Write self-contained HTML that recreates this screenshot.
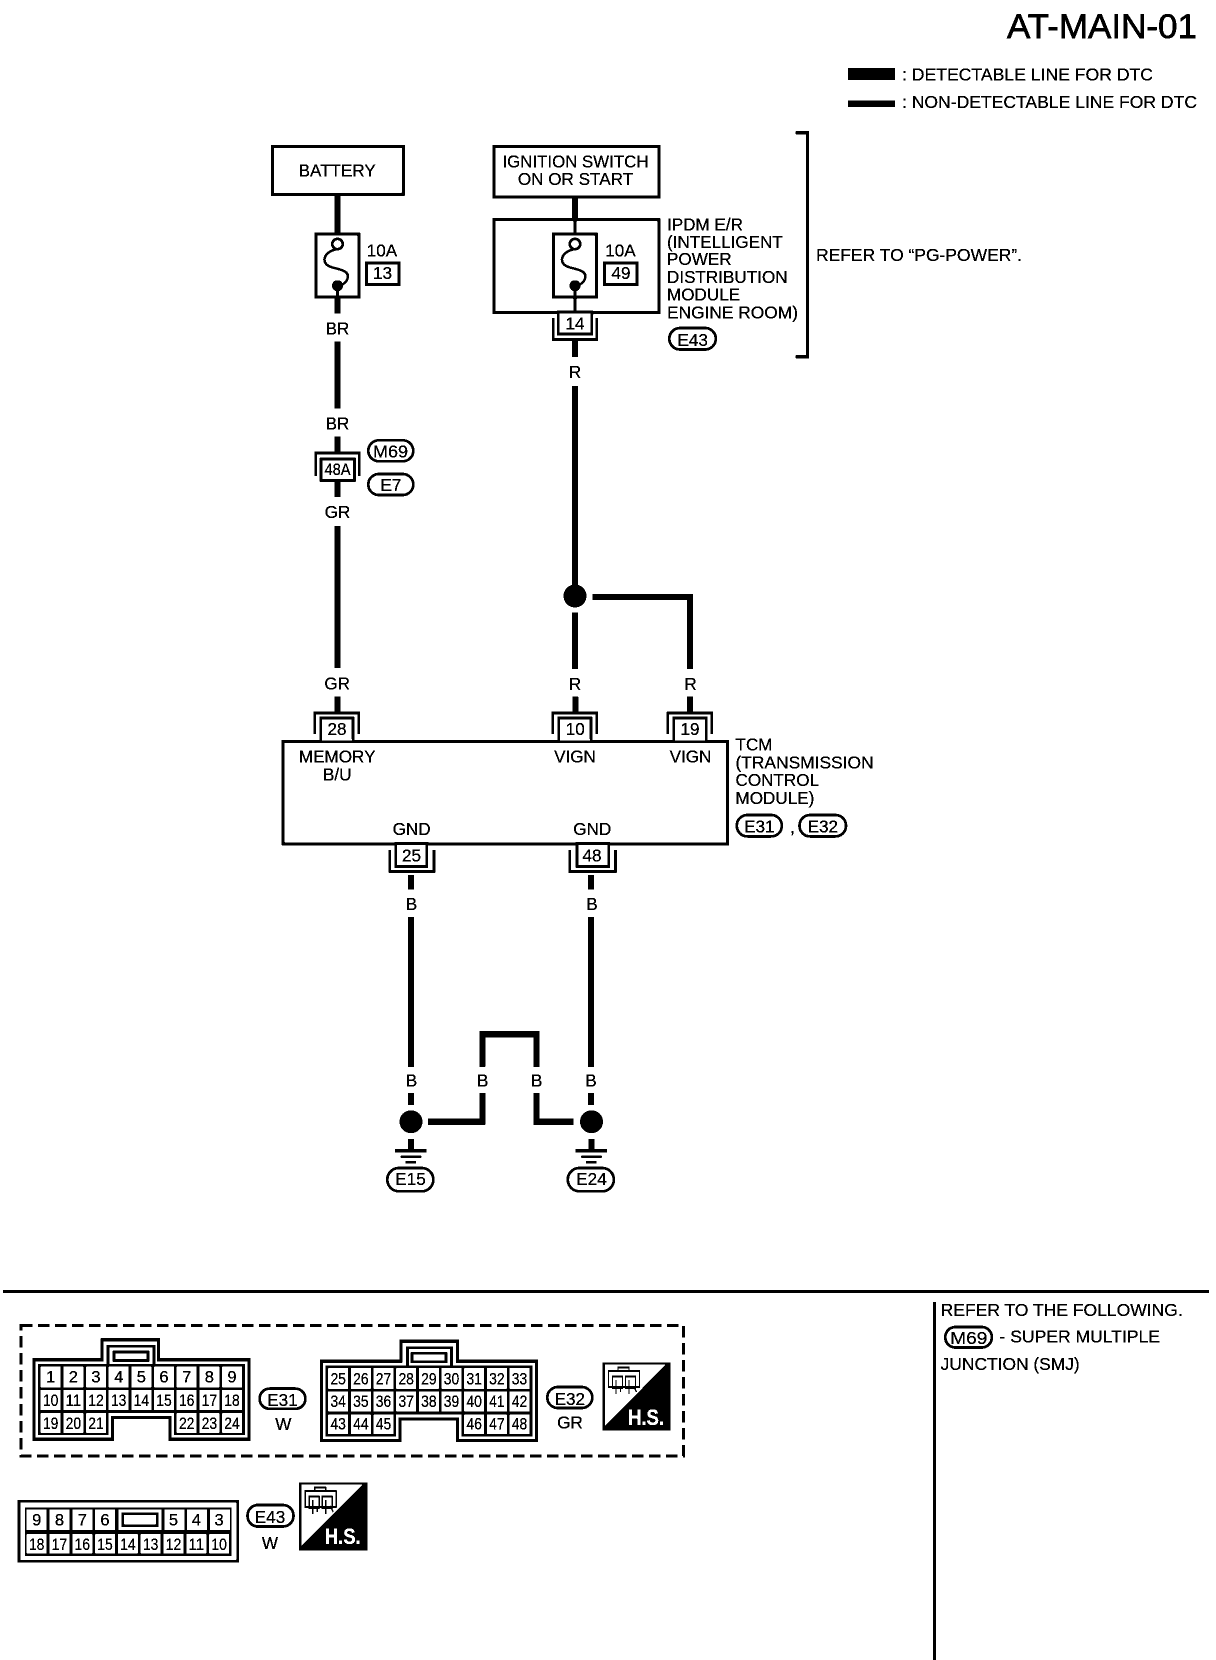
<!DOCTYPE html>
<html><head><meta charset="utf-8"><title>AT-MAIN-01</title>
<style>
html,body{margin:0;padding:0;background:#fff}
svg{display:block}
text{font-family:"Liberation Sans",Arial,sans-serif;font-size:17.1px;fill:#000;stroke:#000;stroke-width:.2px}
.m{text-anchor:middle}
.c{text-anchor:middle;font-size:16.5px}
.w{fill:none;stroke:#000;stroke-width:6}
.t{fill:none;stroke:#000;stroke-width:3.5}
.b{fill:#fff;stroke:#000;stroke-width:3}
.o{fill:#fff;stroke:#000;stroke-width:2.7}
.u{fill:none;stroke:#000;stroke-width:2.6}
.g{fill:none;stroke:#fff}
</style></head><body>
<svg xmlns="http://www.w3.org/2000/svg" width="1216" height="1660" viewBox="0 0 1216 1660">
<defs>
<filter id="bw" filterUnits="userSpaceOnUse" x="0" y="0" width="1216" height="1660" color-interpolation-filters="sRGB">
<feComponentTransfer><feFuncR type="discrete" tableValues="0 1"/><feFuncG type="discrete" tableValues="0 1"/><feFuncB type="discrete" tableValues="0 1"/></feComponentTransfer>
</filter>
<g id="hs">
<rect x="602.3" y="1362.3" width="68.4" height="68.4" fill="#000"/>
<path d="M604.8 1364.8H665.7L604.8 1425.7Z" fill="#fff"/>
<path d="M608.5 1371H639.5V1387H608.5ZM618 1371V1367.5H629V1371M612.5 1376.5H622.5V1388H612.5ZM625.5 1376.5H635.5V1388H625.5ZM616 1380V1394M620.5 1386V1392M629 1380V1394M633.5 1386L636.5 1392" fill="none" stroke="#000" stroke-width="1.4"/>
</g>
<g id="fuse">
<rect class="b" x="315.8" y="234.2" width="43" height="63"/>
<path d="M337.5 249C322 252 321 264 331 267C340 270 351 270 347 280C345 284 341 285 338 286" fill="none" stroke="#000" stroke-width="2.5"/>
<circle cx="337.5" cy="244" r="5.2" fill="#fff" stroke="#000" stroke-width="2.6"/>
<circle cx="337.5" cy="285.7" r="5.5" fill="#000"/>
</g>
<g id="gnd">
<path d="M411 1139V1150" class="w"/>
<path d="M395 1150.7H426.7" stroke="#000" stroke-width="3"/>
<path d="M400.7 1156.7H421.3" stroke="#000" stroke-width="2.2"/>
<path d="M405.7 1162.3H416" stroke="#000" stroke-width="2.6"/>
<circle cx="411" cy="1121.7" r="11.5" fill="#000"/>
<rect class="o" x="387.3" y="1168" width="46" height="23.3" rx="11.5"/>
</g>
</defs>
<g filter="url(#bw)">
<rect width="1216" height="1660" fill="#fff"/>

<!-- title and legend -->
<text x="1197" y="38" text-anchor="end" style="font-size:34px;stroke-width:.7px" textLength="190" lengthAdjust="spacingAndGlyphs">AT-MAIN-01</text>
<rect x="848" y="68" width="47" height="12" fill="#000"/>
<rect x="848" y="100.5" width="47" height="6.5" fill="#000"/>
<text x="902" y="80.5" textLength="251" lengthAdjust="spacingAndGlyphs">: DETECTABLE LINE FOR DTC</text>
<text x="902" y="108" textLength="295" lengthAdjust="spacingAndGlyphs">: NON-DETECTABLE LINE FOR DTC</text>

<!-- battery branch -->
<path class="w" d="M337.5 195V233M337.5 298V313.3M337.5 341.7V408.3M337.5 436.7V452M337.5 481.7V496.7M337.5 526V668M337.5 696.7V712"/>
<rect class="b" x="272.4" y="146.3" width="131" height="48"/>
<text class="m" x="337.2" y="176.5">BATTERY</text>
<use href="#fuse"/>
<path class="t" d="M337.5 286V298"/>
<text class="m" x="382" y="256.7">10A</text>
<rect class="b" x="366.5" y="263.2" width="32.5" height="21.5"/>
<text class="m" x="382.5" y="279">13</text>
<text class="m" x="337.5" y="334.5">BR</text>
<text class="m" x="337.5" y="429.3">BR</text>
<path class="u" d="M315.6 476V453H359.4V476"/>
<rect class="o" x="321" y="459" width="33.5" height="21.5"/>
<text class="c" x="337.5" y="475" textLength="26" lengthAdjust="spacingAndGlyphs">48A</text>
<rect class="o" x="368.3" y="440.3" width="45" height="21" rx="10.5"/>
<text class="m" x="390.5" y="457.3" textLength="35" lengthAdjust="spacingAndGlyphs">M69</text>
<rect class="o" x="368.3" y="474" width="45" height="21" rx="10.5"/>
<text class="m" x="391" y="491">E7</text>
<text class="m" x="337.5" y="518">GR</text>
<text class="m" x="337.2" y="689.3">GR</text>

<!-- ignition branch -->
<path class="w" d="M575 198V220M575 341V356.7M575 386V585M575 612.7V669M575.3 696.7V712M690 696.7V712"/>
<path class="w" d="M592.3 597H690V669"/>
<circle cx="575" cy="596" r="11.5" fill="#000"/>
<rect class="b" x="493.9" y="146.3" width="165" height="50.7"/>
<text class="m" x="575.5" y="167.3" textLength="146" lengthAdjust="spacingAndGlyphs">IGNITION SWITCH</text>
<text class="m" x="575.5" y="184.8">ON OR START</text>
<rect class="b" x="493.9" y="219.7" width="165" height="93"/>
<path class="t" d="M575 220V240"/>
<use href="#fuse" x="237.5"/>
<path class="t" d="M575 286V312"/>
<text class="m" x="620.5" y="256.7">10A</text>
<rect class="b" x="604.5" y="263.2" width="32.6" height="21.5"/>
<text class="m" x="621" y="279">49</text>
<path class="u" d="M553.3 318V339.5H596.7V318"/>
<rect class="o" x="558.3" y="312" width="33.5" height="22"/>
<text class="m" x="575" y="329.3">14</text>
<text x="667" y="230.7">IPDM E/R</text>
<text x="667" y="248">(INTELLIGENT</text>
<text x="667" y="265">POWER</text>
<text x="667" y="283">DISTRIBUTION</text>
<text x="667" y="300.7">MODULE</text>
<text x="667" y="318.5" textLength="131" lengthAdjust="spacingAndGlyphs">ENGINE ROOM)</text>
<rect class="o" x="669.3" y="328" width="46.5" height="21.5" rx="10.7"/>
<text class="m" x="692.7" y="346">E43</text>
<path d="M795.7 132.8H807.5V356.7H795.7" fill="none" stroke="#000" stroke-width="3.2"/>
<text x="816" y="261" textLength="206" lengthAdjust="spacingAndGlyphs">REFER TO “PG-POWER”.</text>
<text class="m" x="575" y="378">R</text>
<text class="m" x="575" y="690">R</text>
<text class="m" x="690.5" y="690">R</text>

<!-- TCM -->
<path class="u" d="M314.8 734V713H358.9V734M552.8 734V713H596.9V734M667.9 734V713H711.7V734"/>
<rect class="o" x="320.7" y="718" width="32.2" height="24"/>
<rect class="o" x="558.8" y="718" width="32.2" height="24"/>
<rect class="o" x="673.8" y="718" width="32.6" height="24"/>
<text class="m" x="337" y="735">28</text>
<text class="m" x="575.3" y="735">10</text>
<text class="m" x="690" y="735">19</text>
<rect class="b" x="283.2" y="741.5" width="444.3" height="102.3"/>
<rect fill="#fff" x="322" y="739" width="30" height="1.6"/>
<rect fill="#fff" x="560" y="739" width="30" height="1.6"/>
<rect fill="#fff" x="675" y="739" width="30" height="1.6"/>
<text class="m" x="337.2" y="762.7">MEMORY</text>
<text class="m" x="337.2" y="780.7">B/U</text>
<text class="m" x="575" y="762.7">VIGN</text>
<text class="m" x="690.5" y="762.7">VIGN</text>
<text class="m" x="411.6" y="835">GND</text>
<text class="m" x="592.3" y="835">GND</text>
<text x="735.5" y="750.7">TCM</text>
<text x="735.5" y="768.3" textLength="138" lengthAdjust="spacingAndGlyphs">(TRANSMISSION</text>
<text x="735.5" y="786">CONTROL</text>
<text x="735.5" y="804">MODULE)</text>
<rect class="o" x="736.8" y="815" width="45" height="21.4" rx="10.5"/>
<text class="m" x="759.3" y="832.5">E31</text>
<text x="790" y="833">,</text>
<rect class="o" x="799.5" y="815" width="46.5" height="21.4" rx="10.5"/>
<text class="m" x="822.8" y="832.5">E32</text>
<rect class="o" x="395.9" y="843.5" width="31" height="23"/>
<rect class="o" x="577" y="843.5" width="31.7" height="23"/>
<path class="u" d="M389.9 850V871.4H434V850M569.8 850V871.4H615.5V850"/>
<text class="m" x="411.5" y="861.7">25</text>
<text class="m" x="592" y="861.7">48</text>

<!-- ground wires -->
<path class="w" d="M411 875V889.3M411 917.3V1066.7M411 1093V1105M591 875V889.3M591 917.3V1066.7M591 1093V1105"/>
<path class="w" d="M428 1121.7H482.3V1093M482.3 1066.7V1034.2H536.5V1066.7M536.5 1093V1121.7H573.5"/>
<text class="m" x="411.5" y="910">B</text>
<text class="m" x="592" y="910">B</text>
<text class="m" x="411.5" y="1086.7">B</text>
<text class="m" x="482.7" y="1086.7">B</text>
<text class="m" x="536.7" y="1086.7">B</text>
<text class="m" x="591" y="1086.7">B</text>
<use href="#gnd"/>
<use href="#gnd" x="180.5"/>
<text class="m" x="410.5" y="1185">E15</text>
<text class="m" x="591.5" y="1185">E24</text>

<!-- separators -->
<rect x="3" y="1290" width="1206" height="2.8" fill="#000"/>
<rect x="933" y="1302" width="3" height="358" fill="#000"/>
<text x="940.7" y="1316" textLength="242" lengthAdjust="spacingAndGlyphs">REFER TO THE FOLLOWING.</text>
<rect class="o" x="945.3" y="1327" width="46.5" height="20.5" rx="10"/>
<text class="m" x="968.8" y="1344" textLength="37" lengthAdjust="spacingAndGlyphs">M69</text>
<text x="999.5" y="1342.7" textLength="160.5" lengthAdjust="spacingAndGlyphs">- SUPER MULTIPLE</text>
<text x="940.7" y="1370" textLength="139" lengthAdjust="spacingAndGlyphs">JUNCTION (SMJ)</text>

<!-- dashed frame -->
<rect x="20.8" y="1325.5" width="662.5" height="130.5" fill="none" stroke="#000" stroke-width="3" stroke-dasharray="11.5 5.5"/>

<!-- E31 connector -->
<path class="b" d="M33.8 1359.8H102.2V1339.8H158.5V1359.8H249.2V1439.2H170V1417.5H112.5V1439.2H33.8Z"/>
<path fill="none" stroke="#000" stroke-width="2.6" d="M108 1364V1346.3H154V1364"/>
<rect fill="#fff" stroke="#000" stroke-width="2.6" x="114" y="1352" width="34" height="8.5"/>
<path fill="#000" d="M38 1364H245V1435H174V1413H108.5V1435H38Z"/>
<path class="g" stroke-width="20.6" stroke-dasharray="20 2.67" d="M40.7 1377H242"/>
<path class="g" stroke-width="20" stroke-dasharray="20 2.67" d="M40.7 1400H242"/>
<path class="g" stroke-width="19.4" stroke-dasharray="20 2.67" d="M40.7 1423H106M176.7 1423H242"/>
<text class="c" x="50.7" y="1382.7">1</text><text class="c" x="73.4" y="1382.7">2</text><text class="c" x="96" y="1382.7">3</text><text class="c" x="118.7" y="1382.7">4</text><text class="c" x="141.4" y="1382.7">5</text><text class="c" x="164" y="1382.7">6</text><text class="c" x="186.7" y="1382.7">7</text><text class="c" x="209.4" y="1382.7">8</text><text class="c" x="232" y="1382.7">9</text>
<text class="c" x="50.7" y="1406" textLength="15.5" lengthAdjust="spacingAndGlyphs">10</text><text class="c" x="73.4" y="1406" textLength="15.5" lengthAdjust="spacingAndGlyphs">11</text><text class="c" x="96" y="1406" textLength="15.5" lengthAdjust="spacingAndGlyphs">12</text><text class="c" x="118.7" y="1406" textLength="15.5" lengthAdjust="spacingAndGlyphs">13</text><text class="c" x="141.4" y="1406" textLength="15.5" lengthAdjust="spacingAndGlyphs">14</text><text class="c" x="164" y="1406" textLength="15.5" lengthAdjust="spacingAndGlyphs">15</text><text class="c" x="186.7" y="1406" textLength="15.5" lengthAdjust="spacingAndGlyphs">16</text><text class="c" x="209.4" y="1406" textLength="15.5" lengthAdjust="spacingAndGlyphs">17</text><text class="c" x="232" y="1406" textLength="15.5" lengthAdjust="spacingAndGlyphs">18</text>
<text class="c" x="50.7" y="1429" textLength="15.5" lengthAdjust="spacingAndGlyphs">19</text><text class="c" x="73.4" y="1429" textLength="15.5" lengthAdjust="spacingAndGlyphs">20</text><text class="c" x="96" y="1429" textLength="15.5" lengthAdjust="spacingAndGlyphs">21</text><text class="c" x="186.7" y="1429" textLength="15.5" lengthAdjust="spacingAndGlyphs">22</text><text class="c" x="209.4" y="1429" textLength="15.5" lengthAdjust="spacingAndGlyphs">23</text><text class="c" x="232" y="1429" textLength="15.5" lengthAdjust="spacingAndGlyphs">24</text>
<rect class="o" x="259.6" y="1388.6" width="45.8" height="20.2" rx="10"/>
<text class="m" x="282.5" y="1406">E31</text>
<text class="m" x="283.3" y="1430">W</text>

<!-- E32 connector -->
<g transform="translate(287.5 1.4)">
<path class="b" d="M33.8 1359.8H113.3V1339.8H170V1359.8H249.2V1439.2H170V1417.5H112.5V1439.2H33.8Z"/>
<path fill="none" stroke="#000" stroke-width="2.6" d="M120 1364V1346.3H164V1364"/>
<rect fill="#fff" stroke="#000" stroke-width="2.6" x="124.5" y="1352" width="34" height="8.5"/>
<path fill="#000" d="M38 1364H245V1435H174V1413H108.5V1435H38Z"/>
<path class="g" stroke-width="20.6" stroke-dasharray="20 2.67" d="M40.7 1377H242"/>
<path class="g" stroke-width="20" stroke-dasharray="20 2.67" d="M40.7 1400H242"/>
<path class="g" stroke-width="19.4" stroke-dasharray="20 2.67" d="M40.7 1423H106M176.7 1423H242"/>
</g>
<g transform="translate(287.5 0)">
<text class="c" x="50.7" y="1384.5" textLength="15.5" lengthAdjust="spacingAndGlyphs">25</text><text class="c" x="73.4" y="1384.5" textLength="15.5" lengthAdjust="spacingAndGlyphs">26</text><text class="c" x="96" y="1384.5" textLength="15.5" lengthAdjust="spacingAndGlyphs">27</text><text class="c" x="118.7" y="1384.5" textLength="15.5" lengthAdjust="spacingAndGlyphs">28</text><text class="c" x="141.4" y="1384.5" textLength="15.5" lengthAdjust="spacingAndGlyphs">29</text><text class="c" x="164" y="1384.5" textLength="15.5" lengthAdjust="spacingAndGlyphs">30</text><text class="c" x="186.7" y="1384.5" textLength="15.5" lengthAdjust="spacingAndGlyphs">31</text><text class="c" x="209.4" y="1384.5" textLength="15.5" lengthAdjust="spacingAndGlyphs">32</text><text class="c" x="232" y="1384.5" textLength="15.5" lengthAdjust="spacingAndGlyphs">33</text>
<text class="c" x="50.7" y="1407" textLength="15.5" lengthAdjust="spacingAndGlyphs">34</text><text class="c" x="73.4" y="1407" textLength="15.5" lengthAdjust="spacingAndGlyphs">35</text><text class="c" x="96" y="1407" textLength="15.5" lengthAdjust="spacingAndGlyphs">36</text><text class="c" x="118.7" y="1407" textLength="15.5" lengthAdjust="spacingAndGlyphs">37</text><text class="c" x="141.4" y="1407" textLength="15.5" lengthAdjust="spacingAndGlyphs">38</text><text class="c" x="164" y="1407" textLength="15.5" lengthAdjust="spacingAndGlyphs">39</text><text class="c" x="186.7" y="1407" textLength="15.5" lengthAdjust="spacingAndGlyphs">40</text><text class="c" x="209.4" y="1407" textLength="15.5" lengthAdjust="spacingAndGlyphs">41</text><text class="c" x="232" y="1407" textLength="15.5" lengthAdjust="spacingAndGlyphs">42</text>
<text class="c" x="50.7" y="1429.5" textLength="15.5" lengthAdjust="spacingAndGlyphs">43</text><text class="c" x="73.4" y="1429.5" textLength="15.5" lengthAdjust="spacingAndGlyphs">44</text><text class="c" x="96" y="1429.5" textLength="15.5" lengthAdjust="spacingAndGlyphs">45</text><text class="c" x="186.7" y="1429.5" textLength="15.5" lengthAdjust="spacingAndGlyphs">46</text><text class="c" x="209.4" y="1429.5" textLength="15.5" lengthAdjust="spacingAndGlyphs">47</text><text class="c" x="232" y="1429.5" textLength="15.5" lengthAdjust="spacingAndGlyphs">48</text>
</g>
<rect class="o" x="547.3" y="1387" width="45" height="21" rx="10.5"/>
<text class="m" x="569.8" y="1405">E32</text>
<text class="m" x="570" y="1428.3">GR</text>
<use href="#hs"/>
<text x="628" y="1425" style="font-size:22px;font-weight:bold;fill:#fff;stroke:#fff" textLength="36" lengthAdjust="spacingAndGlyphs">H.S.</text>

<!-- E43 connector -->
<rect x="19" y="1501.3" width="218.7" height="60" fill="#fff" stroke="#000" stroke-width="2.8"/>
<rect x="25" y="1507.3" width="206.7" height="48.7" fill="#000"/>
<path class="g" stroke-width="20.7" stroke-dasharray="20 2.8" d="M26.7 1519.7H116M164.3 1519.7H230"/>
<rect x="118.3" y="1509.3" width="43.4" height="20.7" fill="#fff"/>
<rect x="122.7" y="1513.7" width="34.6" height="12" fill="#fff" stroke="#000" stroke-width="2.8"/>
<path class="g" stroke-width="19" stroke-dasharray="20 2.8" d="M26.7 1543.8H230"/>
<text class="c" x="36.7" y="1525.7">9</text><text class="c" x="59.5" y="1525.7">8</text><text class="c" x="82.3" y="1525.7">7</text><text class="c" x="105" y="1525.7">6</text><text class="c" x="173.5" y="1525.7">5</text><text class="c" x="196.3" y="1525.7">4</text><text class="c" x="219.1" y="1525.7">3</text>
<text class="c" x="36.7" y="1550" textLength="15.5" lengthAdjust="spacingAndGlyphs">18</text><text class="c" x="59.5" y="1550" textLength="15.5" lengthAdjust="spacingAndGlyphs">17</text><text class="c" x="82.3" y="1550" textLength="15.5" lengthAdjust="spacingAndGlyphs">16</text><text class="c" x="105" y="1550" textLength="15.5" lengthAdjust="spacingAndGlyphs">15</text><text class="c" x="127.9" y="1550" textLength="15.5" lengthAdjust="spacingAndGlyphs">14</text><text class="c" x="150.7" y="1550" textLength="15.5" lengthAdjust="spacingAndGlyphs">13</text><text class="c" x="173.5" y="1550" textLength="15.5" lengthAdjust="spacingAndGlyphs">12</text><text class="c" x="196.3" y="1550" textLength="15.5" lengthAdjust="spacingAndGlyphs">11</text><text class="c" x="219.1" y="1550" textLength="15.5" lengthAdjust="spacingAndGlyphs">10</text>
<rect class="o" x="247.5" y="1505" width="46" height="21.5" rx="10.5"/>
<text class="m" x="270" y="1523">E43</text>
<text class="m" x="270" y="1549">W</text>
<use href="#hs" x="-303.3" y="120"/>
<text x="324.7" y="1544" style="font-size:22px;font-weight:bold;fill:#fff;stroke:#fff" textLength="36" lengthAdjust="spacingAndGlyphs">H.S.</text>
</g>
</svg>
</body></html>
